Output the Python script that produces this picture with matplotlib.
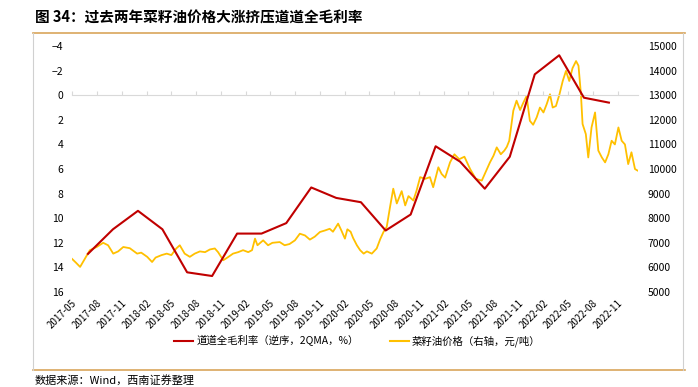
import matplotlib
matplotlib.use("Agg")
import matplotlib.pyplot as plt
import matplotlib.dates as mdates
from matplotlib.lines import Line2D
import pandas as pd

plt.rcParams['font.family'] = ['Noto Sans CJK SC', 'DejaVu Sans']

# margin series, quarter ends (reversed axis, 2QMA, %)
margin_dates = ['2017-06-30', '2017-09-30', '2017-12-31', '2018-03-31', '2018-06-30', '2018-09-30',
                '2018-12-31', '2019-03-31', '2019-06-30', '2019-09-30', '2019-12-31', '2020-03-31',
                '2020-06-30', '2020-09-30', '2020-12-31', '2021-03-31', '2021-06-30', '2021-09-30',
                '2021-12-31', '2022-03-31', '2022-06-30', '2022-09-30']
margin = [12.9, 10.9, 9.4, 10.9, 14.4, 14.7,
          11.25, 11.25, 10.4, 7.5, 8.35, 8.7,
          11.0, 9.7, 4.15, 5.4, 7.6, 5.0,
          -1.7, -3.25, 0.2, 0.6]

# rapeseed oil price (yuan/ton)
price_dates = ['2017-05-01', '2017-05-16', '2017-06-01', '2017-06-16', '2017-07-07', '2017-08-01',
               '2017-08-25', '2017-09-12', '2017-10-01', '2017-10-19', '2017-11-07', '2017-12-01',
               '2017-12-28', '2018-01-12', '2018-02-03', '2018-02-21', '2018-03-06', '2018-03-28',
               '2018-04-16', '2018-05-03', '2018-05-21', '2018-06-03', '2018-06-21', '2018-07-10',
               '2018-07-28', '2018-08-16', '2018-09-04', '2018-09-22', '2018-10-10', '2018-10-22',
               '2018-11-10', '2018-11-28', '2018-12-16', '2019-01-04', '2019-01-22', '2019-02-10',
               '2019-02-24', '2019-03-07', '2019-03-16', '2019-04-06', '2019-04-24', '2019-05-10',
               '2019-06-06', '2019-06-24', '2019-07-12', '2019-08-01', '2019-08-19', '2019-09-07',
               '2019-09-25', '2019-10-13', '2019-11-01', '2019-11-19', '2019-12-07', '2019-12-19',
               '2020-01-07', '2020-01-19', '2020-02-01', '2020-02-10', '2020-02-22', '2020-03-02',
               '2020-03-16', '2020-03-28', '2020-04-10', '2020-04-22', '2020-05-10', '2020-05-28',
               '2020-06-10', '2020-06-22', '2020-07-04', '2020-07-16', '2020-07-28', '2020-08-10',
               '2020-08-28', '2020-09-10', '2020-09-22', '2020-10-10', '2020-10-22', '2020-11-04',
               '2020-11-22', '2020-12-10', '2020-12-22', '2021-01-10', '2021-01-22', '2021-02-04',
               '2021-02-22', '2021-03-10', '2021-03-28', '2021-04-16', '2021-05-07', '2021-05-28',
               '2021-06-19', '2021-07-04', '2021-07-19', '2021-08-01', '2021-08-13', '2021-08-28',
               '2021-09-10', '2021-09-19', '2021-09-28', '2021-10-13', '2021-10-25', '2021-11-07',
               '2021-11-19', '2021-12-01', '2021-12-13', '2021-12-25', '2022-01-07', '2022-01-19',
               '2022-02-01', '2022-02-13', '2022-02-25', '2022-03-07', '2022-03-19', '2022-04-01',
               '2022-04-13', '2022-04-25', '2022-05-07', '2022-05-19', '2022-06-01', '2022-06-10',
               '2022-06-19', '2022-06-25', '2022-07-07', '2022-07-16', '2022-07-28', '2022-08-10',
               '2022-08-22', '2022-09-04', '2022-09-16', '2022-09-28', '2022-10-10', '2022-10-22',
               '2022-11-04', '2022-11-16', '2022-11-28', '2022-12-10', '2022-12-22', '2023-01-04',
               '2023-01-13']
price = [6360, 6200, 6020, 6300, 6700, 6830,
         7000, 6900, 6560, 6650, 6830, 6780,
         6560, 6600, 6430, 6220, 6400, 6500,
         6560, 6500, 6770, 6900, 6560, 6430,
         6560, 6650, 6620, 6730, 6770, 6620,
         6290, 6420, 6560, 6620, 6700, 6620,
         6700, 7170, 6900, 7100, 6900, 7000,
         7030, 6900, 6950, 7100, 7370, 7300,
         7130, 7250, 7440, 7500, 7570, 7450,
         7780, 7500, 7170, 7550, 7450, 7200,
         6900, 6700, 6560, 6650, 6560, 6770,
         7150, 7440, 7650, 8450, 9200, 8600,
         9100, 8520, 8900, 8720, 9130, 9670,
         9600, 9670, 9260, 10070, 9800, 9650,
         10270, 10600, 10400, 10500, 10000, 9600,
         9530, 9900, 10270, 10540, 10880, 10600,
         10750, 10900, 11150, 12370, 12780, 12400,
         12700, 12970, 11960, 11800, 12100, 12500,
         12300, 12640, 13040, 12500, 12560, 13040,
         13580, 13990, 13580, 14100, 14390, 14200,
         13040, 11830, 11420, 10470, 11690, 12300,
         10750, 10470, 10270, 10600, 11150, 11000,
         11690, 11150, 11000, 10200, 10680, 10000,
         9940]

tick_dates = pd.date_range('2017-05-01', '2022-11-01', freq='3MS')

red = '#C00000'
gold = '#FFC000'
frame_orange = '#D9A55B'

fig = plt.figure(figsize=(6.98, 3.87), dpi=100)
ax = fig.add_axes([0.1027, 0.2455, 0.8113, 0.6355])
ax2 = ax.twinx()

ax.plot(pd.to_datetime(margin_dates), margin, color=red, lw=1.5, zorder=3)
ax2.plot(pd.to_datetime(price_dates), price, color=gold, lw=1.3)
ax.set_zorder(ax2.get_zorder() + 1)
ax.patch.set_visible(False)

# left axis reversed
ax.set_ylim(16, -4)
ax.set_yticks(range(-4, 17, 2))
ax2.set_ylim(5000, 15000)
ax2.set_yticks(range(5000, 15001, 1000))
ax.set_xlim(pd.Timestamp('2017-05-01'), pd.Timestamp('2023-01-15'))

# x axis line crosses at 0 with small ticks, labels stay at bottom
ax.spines['top'].set_position(('data', 0))
ax.spines['top'].set_color('#D9D9D9')
ax.spines['top'].set_linewidth(0.8)
for s in ['left', 'right', 'bottom']:
    ax.spines[s].set_visible(False)
for s in ax2.spines.values():
    s.set_visible(False)

ax.set_xticks(tick_dates)
ax.xaxis.set_major_formatter(mdates.DateFormatter('%Y-%m'))
ax.tick_params(axis='x', top=True, bottom=False, labeltop=False, labelbottom=True,
               direction='out', length=3, color='#D9D9D9', labelsize=7, pad=1)
for lab in ax.get_xticklabels():
    lab.set_rotation(45)
    lab.set_ha('right')
    lab.set_va('top')
    lab.set_rotation_mode('anchor')

ax.tick_params(axis='y', length=0, labelsize=7.5, pad=6)
ax2.tick_params(axis='y', length=0, labelsize=7.5, pad=7)

# title and frame
fig.text(0.05, 0.955, '图 34：过去两年菜籽油价格大涨挤压道道全毛利率', fontsize=10.5,
         fontweight='bold', ha='left', va='center')
fig.add_artist(Line2D([0.047, 0.982], [0.915, 0.915], color=frame_orange, lw=1.2))
fig.add_artist(Line2D([0.047, 0.982], [0.044, 0.044], color=frame_orange, lw=1.2))
fig.add_artist(Line2D([0.047, 0.047], [0.044, 0.915], color='#D0D0D0', lw=0.8))
fig.add_artist(Line2D([0.979, 0.979], [0.044, 0.915], color='#D0D0D0', lw=0.8))

handles = [Line2D([], [], color=red, lw=1.5), Line2D([], [], color=gold, lw=1.5)]
fig.legend(handles, ['道道全毛利率（逆序，2QMA，%）', '菜籽油价格（右轴，元/吨）'],
           loc='center', bbox_to_anchor=(0.512, 0.119), ncol=2, frameon=False,
           fontsize=7.5, handlelength=1.8, handletextpad=0.3, columnspacing=3.0)

fig.text(0.05, 0.018, '数据来源：Wind，西南证券整理', fontsize=8, style='italic',
         ha='left', va='center')

fig.savefig('out.png', dpi=100)
